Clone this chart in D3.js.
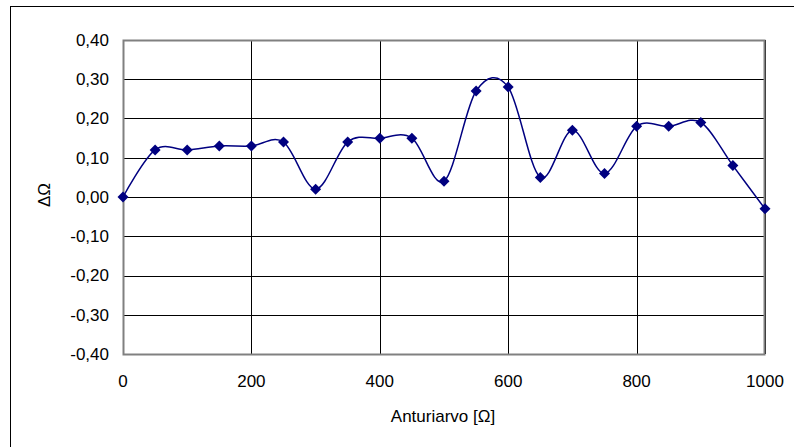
<!DOCTYPE html>
<html><head><meta charset="utf-8">
<script src="https://cdn.jsdelivr.net/npm/d3@7"></script>
<style>body{margin:0;background:#fff}svg{display:block}</style>
</head><body>
<svg id="c" width="794" height="447"></svg>
<script>
const xValues = [0,50,100,150,200,250,300,350,400,450,500,550,600,650,700,750,800,850,900,950,1000];
const yValues = [0.00,0.12,0.12,0.13,0.13,0.14,0.02,0.14,0.15,0.15,0.04,0.27,0.28,0.05,0.17,0.06,0.18,0.18,0.19,0.08,-0.03];
const xTicks = [0,200,400,600,800,1000];
const yTicks = [-0.4,-0.3,-0.2,-0.1,0,0.1,0.2,0.3,0.4];
const xTitle = "Anturiarvo [Ω]";
const yTitle = "ΔΩ";

const svg = d3.select("#c");
const font = "Liberation Sans, Arial, sans-serif";
const fs = 17;
// outer chart border
svg.append("rect").attr("x",10.5).attr("y",6.5).attr("width",800).attr("height",460)
  .attr("fill","#fff").attr("stroke","#000").attr("stroke-width",1);

const L=123, R=765, T=40, B=354;
const x = d3.scaleLinear().domain([0,1000]).range([L,R]);
const y = d3.scaleLinear().domain([-0.4,0.4]).range([B,T]);

const g = svg.append("g");
// gridlines
g.selectAll(".hg").data(yTicks).join("line")
  .attr("x1",L).attr("x2",R).attr("y1",d=>Math.round(y(d))+0.5).attr("y2",d=>Math.round(y(d))+0.5)
  .attr("stroke","#000").attr("stroke-width",1);
g.selectAll(".vg").data(xTicks).join("line")
  .attr("y1",T).attr("y2",B).attr("x1",d=>Math.round(x(d))+0.5).attr("x2",d=>Math.round(x(d))+0.5)
  .attr("stroke","#000").attr("stroke-width",1);
// plot border
g.append("rect").attr("x",L+0.5).attr("y",T+0.5).attr("width",R-L-1).attr("height",B-T)
  .attr("fill","none").attr("stroke","#808080").attr("stroke-width",2);

// tick labels
const fmt = d => d3.format(".2f")(d).replace(".",",").replace("−","-");
g.selectAll(".yl").data(yTicks).join("text")
  .attr("x",109).attr("y",d=>y(d)).attr("dy","0.35em").attr("text-anchor","end")
  .attr("font-family",font).attr("font-size",fs).text(fmt);
g.selectAll(".xl").data(xTicks).join("text")
  .attr("x",d=>x(d)).attr("y",381).attr("dy","0.35em").attr("text-anchor","middle")
  .attr("font-family",font).attr("font-size",fs).text(d=>d);

svg.append("text").attr("x",443).attr("y",416).attr("dy","0.35em").attr("text-anchor","middle")
  .attr("font-family",font).attr("font-size",fs).text(xTitle);
svg.append("text").attr("transform","translate(44,195) rotate(-90)").attr("dy","0.35em")
  .attr("text-anchor","middle").attr("font-family",font).attr("font-size",fs).text(yTitle);

const data = xValues.map((v,i)=>[v,yValues[i]]);
const line = d3.line().x(d=>x(d[0])).y(d=>y(d[1])).curve(d3.curveCardinal.tension(0));
g.append("path").attr("d",line(data)).attr("fill","none").attr("stroke","#000080").attr("stroke-width",1.5);

g.selectAll(".pt").data(data).join("path")
  .attr("transform",d=>`translate(${x(d[0])},${y(d[1])})`)
  .attr("d","M0,-5.5L5.5,0L0,5.5L-5.5,0Z").attr("fill","#000080");
</script>
</body></html>
